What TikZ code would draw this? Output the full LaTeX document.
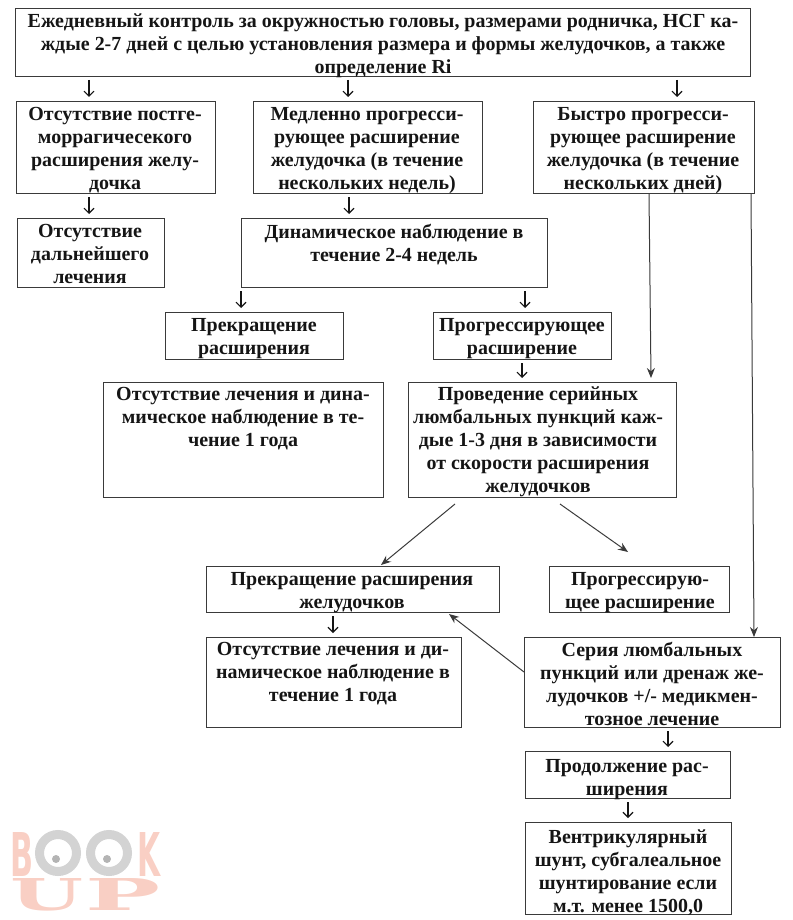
\documentclass[tikz,border=0pt]{standalone}
\usepackage{fontspec}
\usepackage{graphicx}
\setmainfont{Liberation Serif}
\newfontfamily\wmfont{DejaVu Serif}
\newfontfamily\wmsans{DejaVu Sans}
\usetikzlibrary{arrows.meta,calc}
\definecolor{ink}{HTML}{151515}
\definecolor{rule}{HTML}{3A3A3A}
\definecolor{wmred}{HTML}{F9CFC4}
\definecolor{wmgrey}{HTML}{D3D3D3}
\definecolor{wmdot}{HTML}{B4B4B4}
\tikzset{
  box/.style={draw=rule,line width=1pt,inner sep=0pt,anchor=north west,fill=none},
  txt/.style={text=ink,inner sep=0pt,anchor=north,align=center,
    font=\fontsize{19.95}{23}\selectfont\bfseries},
  thinarr/.style={draw=ink,line width=1.1pt,-{Straight Barb[length=5pt,width=10pt]}},
  longarr/.style={draw=rule,line width=1pt,-{Stealth[length=10pt,width=8pt]}},
  wmtext/.style={text=wmred,inner sep=0pt,anchor=north west},
}
% name, x, y, w, h, text centre x, first baseline y, text
\newcommand\bx[8]{%
  \node[box,minimum width=#4pt,minimum height=#5pt] (#1) at (#2,-#3) {};
  \node[txt] (#1t) at (#6,-#7+13) {\rule{0pt}{13pt}#8};
}
\newcommand\sarr[3]{%
  \draw[thinarr] ($(#1.south -| #3,0)+(0,-3)$) -- ($(#2.north -| #3,0)+(0,4)$);
}
\begin{document}
\begin{tikzpicture}[x=1pt,y=1pt]
\useasboundingbox (0,-920) rectangle (792,0);
% watermark
\node[wmtext] (wmB) at (10,-832) {\resizebox{23pt}{44pt}{\wmsans\bfseries B}};
\node[wmtext] (wmK) at (137,-832) {\resizebox{23pt}{44pt}{\wmsans\bfseries K}};
\node[wmtext] (wmU) at (10,-878) {\resizebox{73pt}{32pt}{\wmfont\bfseries U}};
\node[wmtext] (wmP) at (85,-878) {\resizebox{75pt}{32pt}{\wmfont\bfseries P}};
\draw[wmgrey,line width=9pt] (58,-853) circle (18.5);
\draw[wmgrey,line width=9pt] (109,-853) circle (18.5);
\fill[wmdot] (56,-859) circle (4);
\fill[wmdot] (107,-859) circle (4);
% boxes
\bx{top}{15}{8}{735}{68}{383}{27}{Ежедневный контроль за окружностью головы, размерами родничка, НСГ ка-\\ждые 2-7 дней с целью установления размера и формы желудочков, а также\\определение Ri}
\bx{bA}{16}{101}{199}{92}{115}{120}{Отсутствие постге-\\моррагичесекого\\расширения желу-\\дочка}
\bx{bB}{253}{101}{229}{92}{367}{120}{Медленно прогресси-\\рующее расширение\\желудочка (в течение\\нескольких недель)}
\bx{bC}{533}{101}{221}{92}{643}{120}{Быстро прогресси-\\рующее расширение\\желудочка (в течение\\нескольких дней)}
\bx{cA}{17}{218}{147}{69}{90}{237}{Отсутствие\\дальнейшего\\лечения}
\bx{cB}{241}{218}{306}{69}{394}{237}{Динамическое наблюдение в\\течение 2-4 недель}
\bx{dA}{165}{312}{178}{47}{254}{331}{Прекращение\\расширения}
\bx{dB}{433}{312}{178}{47}{522}{331}{Прогрессирующее\\расширение}
\bx{eA}{103}{382}{280}{115}{243}{400}{Отсутствие лечения и дина-\\мическое наблюдение в те-\\чение 1 года}
\bx{eB}{408}{382}{268}{115}{538}{400}{Проведение серийных\\люмбальных пункций каж-\\дые 1-3 дня в зависимости\\от скорости расширения\\желудочков}
\bx{fA}{206}{566}{293}{46}{352}{585}{Прекращение расширения\\желудочков}
\bx{fB}{549}{566}{180}{46}{640}{585}{Прогрессирую-\\щее расширение}
\bx{gA}{206}{637}{255}{90}{333}{655}{Отсутствие лечения и ди-\\намическое наблюдение в\\течение 1 года}
\bx{gB}{524}{637}{256}{90}{652}{655}{Серия люмбальных\\пункций или дренаж же-\\лудочков +/- медикмен-\\тозное лечение}
\bx{hA}{525}{751}{205}{47}{627}{772}{Продолжение рас-\\ширения}
\bx{iA}{525}{822}{206}{92}{628}{843}{Вентрикулярный\\шунт, субгалеальное\\шунтирование если\\м.т. менее 1500,0}
% short arrows
\sarr{top}{bA}{89}
\sarr{top}{bB}{348}
\sarr{top}{bC}{677}
\sarr{bA}{cA}{89}
\sarr{bB}{cB}{349}
\sarr{cB}{dA}{241}
\sarr{cB}{dB}{525}
\sarr{dB}{eB}{522}
\sarr{fA}{gA}{333}
\sarr{gB}{hA}{668}
\sarr{hA}{iA}{628}
% long arrows
\draw[longarr] (bC.south -| 649,0) -- ($(eB.north -| 651,0)+(0,4)$);
\draw[longarr] (bC.south -| 751,0) -- (gB.north -| 754,0);
\draw[longarr] ($(eB.south -| 455,0)+(0,-6)$) -- ($(fA.north -| 381,0)+(0,1)$);
\draw[longarr] ($(eB.south -| 560,0)+(0,-6)$) -- ($(fB.north -| 628,0)+(0,14)$);
\draw[longarr] (gB.west |- 0,-672) -- ($(fA.south -| 449,0)+(0,-1)$);
\end{tikzpicture}
\end{document}
